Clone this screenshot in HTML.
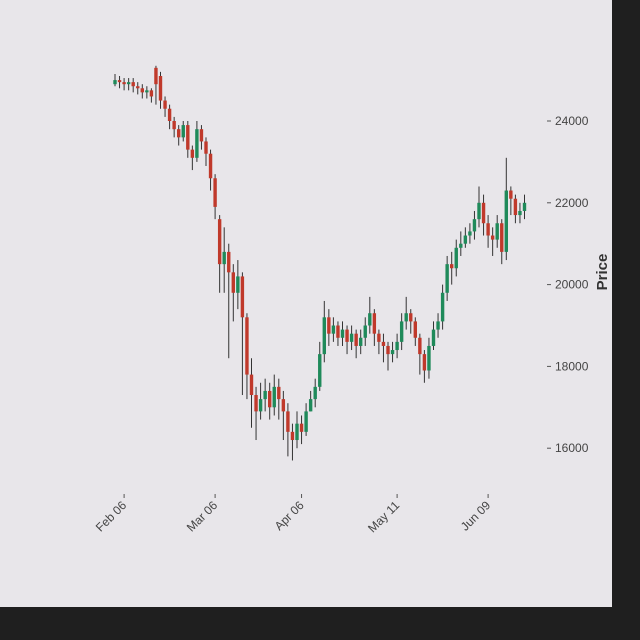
<!DOCTYPE html>
<html><head><meta charset="utf-8"><style>
html,body{margin:0;padding:0;background:#1f1f1f;}
#wrap{position:relative;width:640px;height:640px;background:#1f1f1f;overflow:hidden;}
svg{position:absolute;left:0;top:0;}
text{font-family:"Liberation Sans",sans-serif;}
</style></head><body>
<div id="wrap">
<svg id="chart" width="640" height="640">
<rect x="0" y="0" width="612" height="607" fill="#e8e6ea"/>
<g id="candles"></g>
<g id="yaxis"></g>
<g id="xaxis"></g>
<text x="607" y="272" transform="rotate(-90 607 272)" text-anchor="middle" font-size="15" font-weight="bold" fill="#333">Price</text>
</svg>
</div>
<script>
const opens=[24900,25000,24950,24900,24950,24850,24800,24700,24750,25300,25100,24500,24300,24000,23800,23600,23900,23300,23100,23800,23500,23200,22600,21600,20500,20800,20300,19800,20200,19200,17800,17300,16900,17200,17400,17000,17500,17200,16900,16400,16200,16600,16400,16900,17200,17500,18300,19200,18800,19000,18700,18900,18600,18800,18500,18700,19000,19300,18800,18600,18500,18300,18400,18600,19100,19300,19100,18700,18300,17900,18500,18900,19100,19800,20500,20400,20900,21000,21200,21300,21600,22000,21500,21200,21100,21500,20800,22300,22100,21700,21800];
const closes=[25000,24950,24900,24950,24850,24800,24700,24750,24600,24900,24500,24300,24000,23800,23600,23900,23300,23100,23800,23500,23200,22600,21900,20500,20800,20300,19800,20200,19200,17800,17300,16900,17200,17400,17000,17500,17200,16900,16400,16200,16600,16400,16900,17200,17500,18300,19200,18800,19000,18700,18900,18600,18800,18500,18700,19000,19300,18800,18600,18500,18300,18400,18600,19100,19300,19100,18700,18300,17900,18500,18900,19100,19800,20500,20400,20900,21000,21200,21300,21600,22000,21500,21200,21100,21500,20800,22300,22100,21700,21800,22000];
const highs=[25150,25100,25050,25050,25050,24950,24900,24850,24800,25350,25200,24600,24400,24100,23900,24000,24000,23400,24000,23900,23600,23300,22700,21700,21400,21000,20500,20600,20300,19300,18200,17500,17600,17700,17600,17800,17700,17400,17100,16600,16900,16800,17100,17400,17700,18600,19600,19400,19200,19100,19100,19000,19000,18900,18900,19200,19700,19400,18900,18800,18600,18600,18800,19300,19700,19400,19200,18800,18400,18700,19100,19300,20000,20700,20800,21100,21300,21400,21500,21800,22400,22200,21700,21400,21700,21600,23100,22400,22200,22000,22200];
const lows=[24850,24800,24750,24750,24700,24650,24550,24550,24450,24400,24300,24100,23800,23600,23400,23500,23100,22800,23000,23300,22900,22300,21600,19800,19800,18200,19100,19400,17300,17200,16500,16200,16700,16900,16700,16800,16700,16200,15800,15700,16000,16100,16300,16900,17000,17400,18100,18500,18600,18500,18500,18300,18400,18200,18300,18500,18800,18500,18300,18100,17900,18100,18200,18400,18900,18800,18500,17800,17600,17700,18400,18700,18900,19600,20000,20200,20700,20900,21000,21100,21400,21200,20900,20700,20900,20500,20600,21700,21500,21500,21600];
const yTicks=[16000,18000,20000,22000,24000];
const yTickLabels=["16000","18000","20000","22000","24000"];
const xTickIdx=[2,22,41,62,82];
const xTickLabels=["Feb 06","Mar 06","Apr 06","May 11","Jun 09"];

const NS="http://www.w3.org/2000/svg";
function yS(v){return 121+(24000-v)*0.0409;}
function xS(i){return 115+i*4.55;}
const cg=document.getElementById('candles');
for(let i=0;i<closes.length;i++){
  const up=closes[i]>=opens[i];
  const col=up?"#1f8a5a":"#c0392b";
  const w=document.createElementNS(NS,'line');
  w.setAttribute('x1',xS(i));w.setAttribute('x2',xS(i));
  w.setAttribute('y1',yS(highs[i]));w.setAttribute('y2',yS(lows[i]));
  w.setAttribute('stroke','#333');w.setAttribute('stroke-width','1');
  
  
  cg.appendChild(w);
  const r=document.createElementNS(NS,'rect');
  const y1=yS(Math.max(opens[i],closes[i])),y2=yS(Math.min(opens[i],closes[i]));
  r.setAttribute('x',xS(i)-1.7);r.setAttribute('width',3.4);
  r.setAttribute('y',y1);r.setAttribute('height',Math.max(1,y2-y1));
  r.setAttribute('fill',col);
  
  
  cg.appendChild(r);
}
const ya=document.getElementById('yaxis');
yTicks.forEach((v,k)=>{
  const t=document.createElementNS(NS,'line');
  t.setAttribute('x1',547);t.setAttribute('x2',551);t.setAttribute('y1',yS(v));t.setAttribute('y2',yS(v));
  t.setAttribute('stroke','#555');
  
  
  ya.appendChild(t);
  const tx=document.createElementNS(NS,'text');
  tx.setAttribute('x',555);tx.setAttribute('y',yS(v)+4);tx.setAttribute('font-size','12');tx.setAttribute('fill','#444');
  tx.textContent=yTickLabels[k];
  
  
  ya.appendChild(tx);
});
const xa=document.getElementById('xaxis');
xTickIdx.forEach((idx,k)=>{
  const x=xS(idx);
  const t=document.createElementNS(NS,'line');
  t.setAttribute('x1',x);t.setAttribute('x2',x);t.setAttribute('y1',494);t.setAttribute('y2',498);
  t.setAttribute('stroke','#555');
  
  
  xa.appendChild(t);
  const tx=document.createElementNS(NS,'text');
  tx.setAttribute('x',x+3);tx.setAttribute('y',506);tx.setAttribute('font-size','12');tx.setAttribute('fill','#444');
  tx.setAttribute('text-anchor','end');
  tx.setAttribute('transform','rotate(-45 '+(x+3)+' 506)');
  tx.textContent=xTickLabels[k];
  
  
  xa.appendChild(tx);
});
</script>
</body></html>
